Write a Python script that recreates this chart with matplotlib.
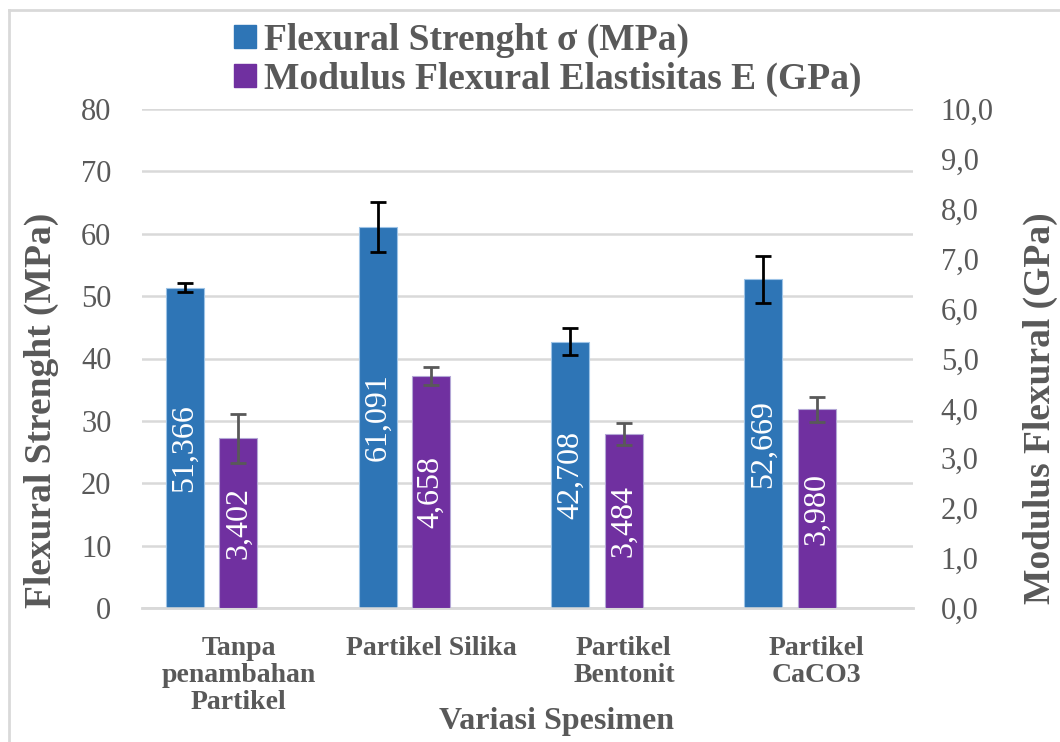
import matplotlib
matplotlib.use("Agg")
import matplotlib.pyplot as plt
from matplotlib.patches import Patch
from matplotlib.lines import Line2D
from matplotlib.ticker import FuncFormatter

# data
kategori = ["Tanpa\npenambahan\nPartikel", "Partikel Silika", "Partikel\nBentonit", "Partikel\nCaCO3"]
flexural = [51.366, 61.091, 42.708, 52.669]
flexural_err = [0.7, 4.0, 2.2, 3.7]
modulus = [3.402, 4.658, 3.484, 3.980]
modulus_err = [0.49, 0.18, 0.22, 0.25]

biru = "#2e75b6"
ungu = "#7030a0"
abu = "#595959"

plt.rcParams["font.family"] = ["Liberation Serif", "DejaVu Serif"]

fig = plt.figure(figsize=(10.6, 7.42), dpi=100)
ax = fig.add_axes([142/1060, 1-608/742, (913-142)/1060, (608-109)/742])
ax2 = ax.twinx()

x = list(range(len(kategori)))
lebar = 0.197
geser = 0.2776

xb = [i - geser for i in x]
ax.bar(xb, flexural, width=lebar, color=biru, edgecolor="#9dc3e6", linewidth=0.8, zorder=3)
ax.errorbar(xb, flexural, yerr=flexural_err, fmt="none", ecolor="black", elinewidth=2,
            capsize=6, capthick=2, zorder=4)
ax2.bar(x, modulus, width=lebar, color=ungu, edgecolor="#b4a7d6", linewidth=0.8, zorder=3)
ax2.errorbar(x, modulus, yerr=modulus_err, fmt="none", ecolor=abu, elinewidth=2,
             capsize=6, capthick=2, zorder=4)

# angka di dalam batang
for xi, v in zip(xb, flexural):
    ax.text(xi, v/2, f"{v:.3f}".replace(".", ","), rotation=90, ha="center", va="center",
            color="white", fontsize=23, zorder=5)
for xi, v in zip(x, modulus):
    ax2.text(xi, v/2, f"{v:.3f}".replace(".", ","), rotation=90, ha="center", va="center",
             color="white", fontsize=23, zorder=5)

ax.set_xlim(-0.5, 3.5)
ax.set_ylim(0, 80)
ax.set_yticks(range(0, 81, 10))
ax2.set_ylim(0, 10)
ax2.set_yticks(range(0, 11))
ax2.yaxis.set_major_formatter(FuncFormatter(lambda v, p: f"{v:.1f}".replace(".", ",")))

ax.grid(axis="y", color="#d9d9d9", linewidth=1.8, zorder=0)
ax.set_axisbelow(True)
for a in (ax, ax2):
    for s in ["top", "left", "right"]:
        a.spines[s].set_visible(False)
    a.spines["bottom"].set_color("#d9d9d9")
    a.spines["bottom"].set_linewidth(1.8)
    a.tick_params(length=0, colors=abu, labelsize=22)
ax.tick_params(axis="y", pad=22)
ax2.tick_params(axis="y", pad=20)

ax.set_xticks(x)
ax.set_xticklabels(kategori, fontweight="bold", fontsize=20, color=abu, linespacing=1.12)
ax.tick_params(axis="x", pad=20)

ax.set_ylabel("Flexural Strenght (MPa)", fontsize=27, fontweight="bold", color=abu)
ax.yaxis.set_label_coords(-0.108, 0.397)
ax2.set_ylabel("Modulus Flexural (GPa)", fontsize=27, fontweight="bold", color=abu)
ax2.yaxis.set_label_coords(1.143, 0.40)
ax.set_xlabel("Variasi Spesimen", fontsize=23, fontweight="bold", color=abu)
ax.xaxis.set_label_coords(0.538, -0.198)

handles = [Patch(color=biru), Patch(color=ungu)]
labels = ["Flexural Strenght σ (MPa)", "Modulus Flexural Elastisitas E (GPa)"]
leg = fig.legend(handles, labels, loc="upper left", bbox_to_anchor=(200/1060, 1+11/742),
                 frameon=False, fontsize=27, handlelength=0.6, handleheight=0.6,
                 handletextpad=0.2, labelspacing=0.1)
for t in leg.get_texts():
    t.set_fontweight("bold")
    t.set_color(abu)

# bingkai grafik (hanya kiri dan atas yang terlihat)
fig.add_artist(Line2D([9/1060, 9/1060], [0, 1-10/742], transform=fig.transFigure,
                      color="#d9d9d9", linewidth=2))
fig.add_artist(Line2D([9/1060, 1], [1-10/742, 1-10/742], transform=fig.transFigure,
                      color="#d9d9d9", linewidth=2))

fig.savefig("out.png", dpi=100)
